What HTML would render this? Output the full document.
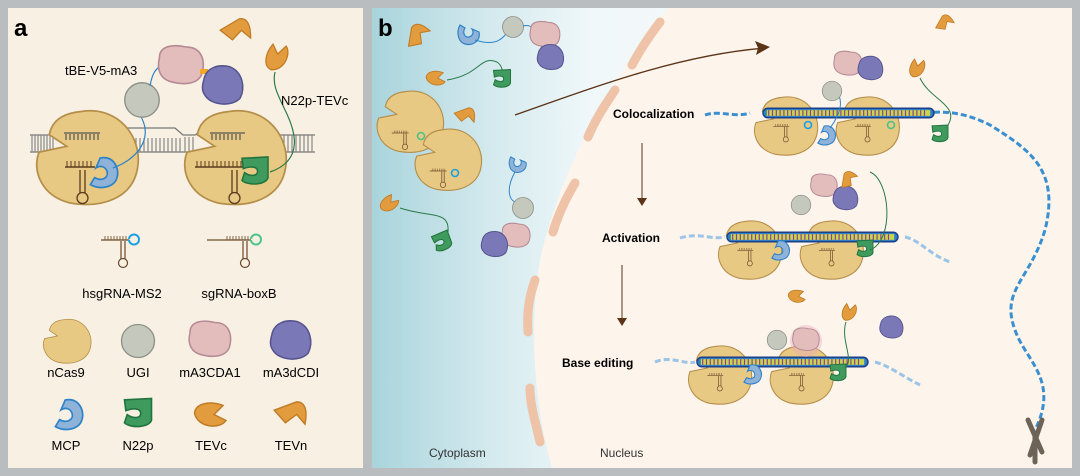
<!DOCTYPE html>
<html><head><meta charset="utf-8"><style>
html,body{margin:0;padding:0;background:#b9bdc0;}
svg{display:block;}
text{font-family:"Liberation Sans",Arial,sans-serif;}
</style></head><body>
<svg width="1080" height="476" viewBox="0 0 1080 476" xmlns="http://www.w3.org/2000/svg">
<defs>
<linearGradient id="cyto" x1="0" x2="1" y1="0" y2="0">
<stop offset="0" stop-color="#a9d4dc"/><stop offset="0.18" stop-color="#d6ebef"/><stop offset="0.32" stop-color="#f1f8fa"/><stop offset="1" stop-color="#fbfdfd"/>
</linearGradient>
<path id="cas" d="M-4,-30 C22,-34 38,-12 35,8 C32,30 10,37 -12,33 C-32,28 -38,10 -33,-2 L-14,-6 L-26,-14 C-24,-25 -15,-29 -4,-30Z" fill="#e8c983" stroke="#b58e4a" stroke-width="1.2"/>
<path id="mcp" d="M-2,-10 C8,-12 12,-2 10,4 C8,11 -2,13 -9,9 L-6,4 C-1,7 4,4 3,0 C2,-4 -2,-5 -5,-3 Z" fill="#8fb2d8" stroke="#2e83c8" stroke-width="1.2"/>
<path id="n22" d="M-10,-9 L10,-10 L10,6 C8,12 -6,12 -10,8 L-8,2 C-4,5 2,5 2,1 C2,-3 -4,-3 -9,-1Z" fill="#3e9a5d" stroke="#22743e" stroke-width="1.2"/>
<path id="tevc" d="M-11,-2 C-10,-9 0,-10 8,-7 L2,-1 L10,3 C6,9 -9,8 -11,-2Z" fill="#e39c3d" stroke="#c07b25" stroke-width="1"/>
<path id="tevn" d="M-12,-2 L4,-8 C10,-8 12,-2 10,8 L4,1 L-4,7 Z" fill="#e39c3d" stroke="#c07b25" stroke-width="1"/>
<circle id="ugi" r="15" fill="#c4c8bd" stroke="#8d9188" stroke-width="1.2"/>
<path id="cda" d="M-16,-6 C-16,-16 -4,-16 4,-14 C14,-14 18,-6 16,4 C14,14 2,14 -6,12 C-16,10 -18,2 -16,-6Z" fill="#e3bcbc" stroke="#b58a95" stroke-width="1.2"/>
<path id="dcd" d="M-14,-4 C-12,-14 -2,-16 6,-14 C16,-10 18,2 14,10 C8,17 -8,16 -13,8 C-16,4 -15,0 -14,-4Z" fill="#7b78b7" stroke="#56548f" stroke-width="1.2"/>
<g id="sgL"><line x1="-22" y1="0" x2="6" y2="0" stroke="#6b4a2a" stroke-width="1.2"/><path d="M-18,0 v-4 M-15,0 v-4 M-12,0 v-4 M-9,0 v-4 M-6,0 v-4 M-3,0 v-4 M0,0 v-4 M3,0 v-4" stroke="#6b4a2a" stroke-width="0.8"/><path d="M-2,1 v18 M2,1 v18" stroke="#6b4a2a" stroke-width="1.2"/><circle cx="0" cy="23" r="4.5" fill="none" stroke="#6b4a2a" stroke-width="1.2"/></g>
<g id="dnab">
<rect x="0" y="-5" width="180" height="10" rx="5" fill="#2e7fc4" stroke="#1d3f8a" stroke-width="1.5"/>
<rect x="4" y="-3" width="172" height="6" fill="#c9d64a"/>
<path d="M6,-3 v6 M10,-3 v6 M14,-3 v6 M18,-3 v6 M22,-3 v6 M26,-3 v6 M30,-3 v6 M34,-3 v6 M38,-3 v6 M42,-3 v6 M46,-3 v6 M50,-3 v6 M54,-3 v6 M58,-3 v6 M62,-3 v6 M66,-3 v6 M70,-3 v6 M74,-3 v6 M78,-3 v6 M82,-3 v6 M86,-3 v6 M90,-3 v6 M94,-3 v6 M98,-3 v6 M102,-3 v6 M106,-3 v6 M110,-3 v6 M114,-3 v6 M118,-3 v6 M122,-3 v6 M126,-3 v6 M130,-3 v6 M134,-3 v6 M138,-3 v6 M142,-3 v6 M146,-3 v6 M150,-3 v6 M154,-3 v6 M158,-3 v6 M162,-3 v6 M166,-3 v6 M170,-3 v6" stroke="#8a3aa0" stroke-width="1.2"/>
</g>
<g id="pair">
<use href="#cas" transform="translate(24,12) scale(0.95)"/>
<use href="#cas" transform="translate(110,12) scale(0.95)"/>
<use href="#dnab"/>
<use href="#sgL" transform="translate(24,14) scale(0.6)"/>
<use href="#sgL" transform="translate(110,14) scale(0.6)"/>
</g>
</defs>

<!-- panel a -->
<rect x="8" y="8" width="355" height="460" fill="#f8f0e3"/>
<text x="14" y="36" font-size="24" font-weight="bold">a</text>
<g stroke="#777" stroke-width="1.3" fill="none">
<path d="M30,135 H60 M30,152 H60 M100,135 H115 L125,128 H175 L183,135 H195 L205,128 H240 L250,135 H315 M100,152 H195 M260,152 H315"/>
</g>
<path d="M32,135 v17 M35,135 v17 M38,135 v17 M41,135 v17 M44,135 v17 M47,135 v17 M50,135 v17 M53,135 v17 M104,135 v17 M108,135 v17 M112,135 v17 M116,137 v15 M185,137 v15 M189,137 v15 M193,137 v15 M252,135 v17 M256,135 v17 M264,135 v17 M268,135 v17 M272,135 v17 M276,135 v17 M280,135 v17 M284,135 v17 M288,135 v17 M292,135 v17 M296,135 v17 M300,135 v17 M304,135 v17 M308,135 v17 M312,135 v17 M120,152 v-14 M124,152 v-14 M128,152 v-14 M132,152 v-14 M136,152 v-14 M140,152 v-14 M144,152 v-14 M148,152 v-14 M152,152 v-14 M156,152 v-14 M160,152 v-14 M164,152 v-14 M168,152 v-14 M172,152 v-14 M176,152 v-14 M180,152 v-14" stroke="#888" stroke-width="1.2"/>
<use href="#cas" transform="translate(87,155) scale(1.45)"/>
<use href="#cas" transform="translate(235,155) scale(1.45)"/>
<g stroke="#555" stroke-width="1.2"><path d="M64,133 H100 M66,140 v-6 M70,140 v-6 M74,140 v-6 M78,140 v-6 M82,140 v-6 M86,140 v-6 M90,140 v-6 M94,140 v-6 M98,140 v-6 M210,133 H245 M212,140 v-6 M216,140 v-6 M220,140 v-6 M224,140 v-6 M228,140 v-6 M232,140 v-6 M236,140 v-6 M240,140 v-6"/></g>
<path d="M65,167 H95 M195,167 H245" stroke="#5a3a1e" stroke-width="1.5"/>
<path d="M67,167 v-6 M71,167 v-6 M75,167 v-6 M79,167 v-6 M83,167 v-6 M87,167 v-6 M91,167 v-6 M197,167 v-6 M201,167 v-6 M205,167 v-6 M209,167 v-6 M213,167 v-6 M217,167 v-6 M221,167 v-6 M225,167 v-6 M229,167 v-6 M233,167 v-6 M237,167 v-6 M241,167 v-6" stroke="#5a3a1e" stroke-width="1"/>
<path d="M80,170 v23 M85,170 v23 M232,170 v23 M237,170 v23" stroke="#5a3a1e" stroke-width="1.3"/>
<circle cx="82.5" cy="198" r="5.5" fill="none" stroke="#5a3a1e" stroke-width="1.3"/>
<circle cx="234.5" cy="198" r="5.5" fill="none" stroke="#5a3a1e" stroke-width="1.3"/>
<use href="#mcp" transform="translate(103,172) scale(1.4)"/>
<use href="#n22" transform="translate(255,170) scale(1.3)"/>
<path d="M113,168 C135,160 155,140 140,115" fill="none" stroke="#2e83c8" stroke-width="1.2"/>
<use href="#ugi" transform="translate(142,100) scale(1.15)"/>
<path d="M150,86 C152,75 155,68 162,66" fill="none" stroke="#2e83c8" stroke-width="1.2"/>
<use href="#cda" transform="translate(181,66) scale(1.35)"/>
<rect x="200" y="69" width="8" height="5" fill="#f4a823"/>
<use href="#dcd" transform="translate(222,85) scale(1.3)"/>
<path d="M270,172 C305,160 295,130 285,110 C278,95 272,85 275,72" fill="none" stroke="#2b7a48" stroke-width="1.2"/>
<use href="#tevn" transform="translate(236,30) scale(1.3) rotate(-10)"/>
<use href="#tevc" transform="translate(278,57) scale(1.3) rotate(-70)"/>
<text x="65" y="75" font-size="13">tBE-V5-mA3</text>
<text x="281" y="105" font-size="13">N22p-TEVc</text>
<use href="#sgL" transform="translate(123,240)"/>
<path d="M129,240 a5,5 0 1 0 0,-1" fill="none" stroke="#1a9ee3" stroke-width="2"/>
<use href="#sgL" transform="translate(245,240)"/>
<path d="M251,240 a5,5 0 1 0 0,-1" fill="none" stroke="#4cc28a" stroke-width="2"/>
<line x1="207" y1="240" x2="223" y2="240" stroke="#6b4a2a" stroke-width="1.2"/>
<text x="122" y="298" font-size="13" text-anchor="middle">hsgRNA-MS2</text>
<text x="239" y="298" font-size="13" text-anchor="middle">sgRNA-boxB</text>
<use href="#cas" transform="translate(67,340) scale(0.68)"/>
<use href="#ugi" transform="translate(138,341) scale(1.1)"/>
<use href="#cda" transform="translate(210,340) scale(1.25)"/>
<use href="#dcd" transform="translate(290,340) scale(1.3)"/>
<text x="66" y="377" font-size="13" text-anchor="middle">nCas9</text>
<text x="138" y="377" font-size="13" text-anchor="middle">UGI</text>
<text x="210" y="377" font-size="13" text-anchor="middle">mA3CDA1</text>
<text x="291" y="377" font-size="13" text-anchor="middle">mA3dCDI</text>
<use href="#mcp" transform="translate(68,414) scale(1.4)"/>
<use href="#n22" transform="translate(138,412) scale(1.35)"/>
<use href="#tevc" transform="translate(211,416) scale(1.5)"/>
<use href="#tevn" transform="translate(291,413) scale(1.4)"/>
<text x="66" y="450" font-size="13" text-anchor="middle">MCP</text>
<text x="138" y="450" font-size="13" text-anchor="middle">N22p</text>
<text x="211" y="450" font-size="13" text-anchor="middle">TEVc</text>
<text x="291" y="450" font-size="13" text-anchor="middle">TEVn</text>

<!-- panel b -->
<rect x="372" y="8" width="700" height="460" fill="url(#cyto)"/>
<path d="M668,8 C610,80 560,170 540,260 C528,330 535,410 552,468 L1072,468 L1072,8 Z" fill="#fdf4ec"/>
<g fill="none" stroke="#eec3a8" stroke-width="9" stroke-linecap="round">
<path d="M660,22 C650,35 640,50 632,65"/>
<path d="M615,90 C605,105 595,120 588,137"/>
<path d="M575,183 C565,200 558,215 553,232"/>
<path d="M535,280 C528,300 527,315 528,332"/>
<path d="M530,388 C530,405 535,420 540,442"/>
</g>
<text x="378" y="36" font-size="24" font-weight="bold">b</text>
<use href="#tevn" transform="translate(417,36) scale(1.1) rotate(-60)"/>
<use href="#mcp" transform="translate(469,34) rotate(90)"/>
<path d="M475,40 C500,48 505,35 510,28" fill="none" stroke="#2e83c8" stroke-width="1"/>
<use href="#ugi" transform="translate(513,27) scale(0.7)"/>
<path d="M523,26 C530,24 532,28 535,30" fill="none" stroke="#2e83c8" stroke-width="1"/>
<use href="#cda" transform="translate(545,35) scale(0.9)"/>
<use href="#dcd" transform="translate(550,57) scale(0.85)"/>
<use href="#tevc" transform="translate(436,79) scale(0.9)"/>
<path d="M447,80 C480,75 480,55 497,62 C502,65 502,70 503,72" fill="none" stroke="#2b7a48" stroke-width="1"/>
<use href="#n22" transform="translate(502,78) scale(0.85)"/>
<use href="#tevn" transform="translate(465,115) scale(0.9)"/>
<use href="#cas" transform="translate(410,120) scale(0.95)"/>
<use href="#sgL" transform="translate(405,133) scale(0.6)"/>
<circle cx="421" cy="136" r="3.5" fill="none" stroke="#4cc28a" stroke-width="1.6"/>
<use href="#cas" transform="translate(448,158) scale(0.95)"/>
<use href="#sgL" transform="translate(443,171) scale(0.6)"/>
<circle cx="455" cy="173" r="3.5" fill="none" stroke="#1a9ee3" stroke-width="1.6"/>
<use href="#tevc" transform="translate(390,204) scale(0.9) rotate(-40)"/>
<path d="M400,208 C430,218 450,210 448,232" fill="none" stroke="#2b7a48" stroke-width="1"/>
<use href="#n22" transform="translate(442,241) scale(0.85) rotate(-20)"/>
<use href="#mcp" transform="translate(518,164) scale(0.8) rotate(90)"/>
<path d="M515,172 C505,190 510,200 515,202" fill="none" stroke="#2e83c8" stroke-width="1"/>
<use href="#ugi" transform="translate(523,208) scale(0.7)"/>
<use href="#cda" transform="translate(516,236) scale(0.85)"/>
<use href="#dcd" transform="translate(494,244) scale(0.85)"/>
<path d="M515,115 C600,85 680,55 765,48" fill="none" stroke="#5b3418" stroke-width="1.4"/>
<path d="M770,47 L755,41 L758,48 L756,55 Z" fill="#5b3418"/>
<path d="M642,143 V200" stroke="#5b3418" stroke-width="1"/>
<path d="M637,198 L647,198 L642,206Z" fill="#5b3418"/>
<path d="M622,265 V320" stroke="#5b3418" stroke-width="1"/>
<path d="M617,318 L627,318 L622,326Z" fill="#5b3418"/>
<text x="613" y="118" font-size="12" font-weight="bold">Colocalization</text>
<text x="602" y="242" font-size="12" font-weight="bold">Activation</text>
<text x="562" y="367" font-size="12" font-weight="bold">Base editing</text>
<text x="429" y="457" font-size="12" fill="#333">Cytoplasm</text>
<text x="600" y="457" font-size="12" fill="#333">Nucleus</text>
<path d="M705,115 C720,110 735,118 750,113 M925,113 C950,110 970,115 990,125 C1030,150 1060,170 1045,230 C1030,280 1000,290 1015,330 C1025,360 1060,380 1035,430" fill="none" stroke="#3a8fd0" stroke-width="3" stroke-dasharray="6 3"/>
<path d="M680,238 C700,232 710,240 725,237 M905,237 C920,240 930,255 950,262 M655,362 C670,355 685,365 695,362 M875,362 C890,366 900,375 920,385" fill="none" stroke="#9cc4e6" stroke-width="3" stroke-dasharray="6 3"/>
<path d="M1028,420 L1042,452 M1042,420 L1030,455 M1035,437 v25" stroke="#6e6357" stroke-width="5" stroke-linecap="round"/>
<use href="#pair" transform="translate(763,113) scale(0.95)"/>
<circle cx="808" cy="125" r="3.5" fill="none" stroke="#1a9ee3" stroke-width="1.6"/>
<circle cx="891" cy="125" r="3.5" fill="none" stroke="#4cc28a" stroke-width="1.6"/>
<use href="#mcp" transform="translate(826,135) scale(0.9)"/>
<path d="M830,128 C840,115 845,100 835,90" fill="none" stroke="#2e83c8" stroke-width="1"/>
<use href="#ugi" transform="translate(832,91) scale(0.65)"/>
<use href="#cda" transform="translate(848,64) scale(0.85)"/>
<use href="#dcd" transform="translate(870,68) scale(0.8)"/>
<use href="#tevc" transform="translate(918,68) scale(0.9) rotate(-70)"/>
<path d="M920,78 C930,100 960,105 948,125" fill="none" stroke="#2b7a48" stroke-width="1"/>
<use href="#n22" transform="translate(940,133) scale(0.8)"/>
<use href="#tevn" transform="translate(944,23) scale(0.8) rotate(-40)"/>
<use href="#pair" transform="translate(727,237) scale(0.95)"/>
<use href="#mcp" transform="translate(780,250) scale(0.9)"/>
<use href="#n22" transform="translate(865,248) scale(0.8)"/>
<use href="#ugi" transform="translate(801,205) scale(0.65)"/>
<use href="#cda" transform="translate(824,186) scale(0.8)"/>
<use href="#dcd" transform="translate(845,198) scale(0.8)"/>
<use href="#tevn" transform="translate(848,180) scale(0.8) rotate(-60)"/>
<path d="M870,250 C895,240 890,180 870,172" fill="none" stroke="#2b7a48" stroke-width="1"/>
<use href="#tevc" transform="translate(797,297) scale(0.8)"/>
<use href="#pair" transform="translate(697,362) scale(0.95)"/>
<use href="#mcp" transform="translate(752,374) scale(0.9)"/>
<use href="#n22" transform="translate(838,372) scale(0.8)"/>
<use href="#ugi" transform="translate(777,340) scale(0.65)"/>
<circle cx="806" cy="341" r="16" fill="#e9a9bf" opacity="0.4"/>
<use href="#cda" transform="translate(806,340) scale(0.8)"/>
<use href="#tevc" transform="translate(850,312) scale(0.85) rotate(-70)"/>
<path d="M846,322 C840,340 855,360 845,368" fill="none" stroke="#2b7a48" stroke-width="1"/>
<use href="#dcd" transform="translate(891,327) scale(0.75)"/>
</svg>
</body></html>
